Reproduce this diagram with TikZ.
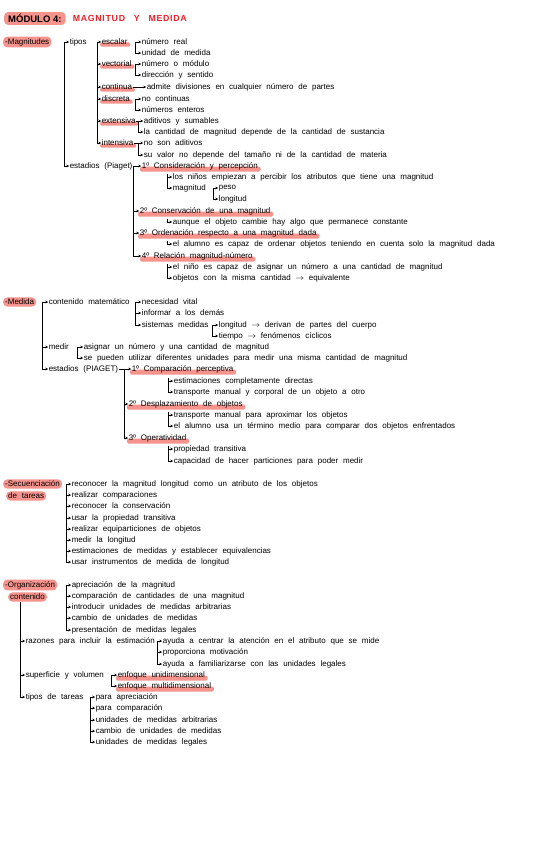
\documentclass[tikz,border=0pt]{standalone}
\usepackage{fontspec}
\setmainfont{Liberation Sans}
\usetikzlibrary{arrows.meta,calc,backgrounds}
\definecolor{hlc}{HTML}{F5938C}
\definecolor{titred}{HTML}{E8232B}
\newcommand{\tx}{\fontsize{8}{9}\selectfont\spaceskip=4.8pt plus 0.5pt}
\begin{document}
\begin{tikzpicture}[x=1pt,y=-1pt,
  t/.style={anchor=west,inner sep=0.6pt,font=\tx},
  pill/.style={anchor=west,inner xsep=2pt,inner ysep=1.6pt,font=\tx,fill=hlc,rounded corners=4pt},
  ln/.style={line width=0.5pt},
  arr/.style={line width=0.5pt,-{Stealth[length=2.6pt,width=2.6pt]}}]
\useasboundingbox (0,0) rectangle (549,848);

% ---------- title
\node[pill,font=\fontsize{9.5}{10}\selectfont\bfseries,inner ysep=2.2pt,inner xsep=4pt] (tit) at (4,18.5) {MÓDULO 4:};
\node[t,font=\fontsize{8.8}{10}\selectfont\bfseries,text=titred] (tit2) at (72,18.5) {M\kern0.7pt A\kern0.7pt G\kern0.7pt N\kern0.7pt I\kern0.7pt T\kern0.7pt U\kern0.7pt D\quad Y\quad M\kern0.7pt E\kern0.7pt D\kern0.7pt I\kern0.7pt D\kern0.7pt A};

% ---------- Magnitudes
\node[pill] (mag) at (3,42) {-Magnitudes};
\node[t] (tipos) at (69,42) {tipos};
\node[t] (estP) at (69,166) {estadios (Piaget)};
\coordinate (xA) at (64,0);

\node[t] (esc) at (101,42) {escalar};
\node[t] (vec) at (101,64) {vectorial};
\node[t] (con) at (101,87) {continua};
\node[t] (dis) at (101,99) {discreta};
\node[t] (ext) at (101,121) {extensiva};
\node[t] (int) at (101,143) {intensiva};
\coordinate (xB) at (97,0);

\node[t] (esc1) at (141,42) {número real};
\node[t] (esc2) at (141,53) {unidad de medida};
\node[t] (vec1) at (141,64) {número o módulo};
\node[t] (vec2) at (141,75) {dirección y sentido};
\node[t] (con1) at (146,87) {admite divisiones en cualquier número de partes};
\node[t] (dis1) at (141,99) {no continuas};
\node[t] (dis2) at (141,110) {números enteros};
\node[t] (ext1) at (143,121) {aditivos y sumables};
\node[t] (ext2) at (143,132) {la cantidad de magnitud depende de la cantidad de sustancia};
\node[t] (int1) at (143,143) {no son aditivos};
\node[t] (int2) at (143,155) {su valor no depende del tamaño ni de la cantidad de materia};
\coordinate (xC) at (135,0);
\coordinate (xC2) at (138,0);

\node[t] (e1) at (141,166) {1º Consideración y percepción};
\node[t] (e1a) at (172,177) {los niños empiezan a percibir los atributos que tiene una magnitud};
\node[t] (e1b) at (172,188) {magnitud};
\node[t] (peso) at (218,188) {peso};
\node[t] (long) at (218,199) {longitud};
\node[t] (e2) at (139,211) {2º Conservación de una magnitud};
\node[t] (e2a) at (172,222) {aunque el objeto cambie hay algo que permanece constante};
\node[t] (e3) at (139,233) {3º Ordenación respecto a una magnitud dada};
\node[t] (e3a) at (172,244) {el alumno es capaz de ordenar objetos teniendo en cuenta solo la magnitud dada};
\node[t] (e4) at (141,256) {4º Relación magnitud-número};
\node[t] (e4a) at (172,267) {el niño es capaz de asignar un número a una cantidad de magnitud};
\node[t] (e4b) at (172,278) {objetos con la misma cantidad $\to$ equivalente};
\coordinate (xD) at (133,0);
\coordinate (xE) at (167,0);
\coordinate (xF) at (213,0);

% connectors Magnitudes
\draw[ln] (tipos.west -| xA) -- (estP.west -| xA);
\foreach \n in {tipos,estP} \draw[arr] (\n.west -| xA) -- (\n.west);
\draw[ln] (esc.west -| xB) -- (int.west -| xB);
\foreach \n in {esc,vec,con,dis,ext,int} \draw[arr] (\n.west -| xB) -- (\n.west);
\draw[ln] (esc1.west -| xC) -- (esc2.west -| xC);
\foreach \n in {esc1,esc2} \draw[arr] (\n.west -| xC) -- (\n.west);
\draw[ln] (vec1.west -| xC) -- (vec2.west -| xC);
\foreach \n in {vec1,vec2} \draw[arr] (\n.west -| xC) -- (\n.west);
\draw[arr] (con.east) -- (con1.west);
\draw[ln] (dis1.west -| xC) -- (dis2.west -| xC);
\foreach \n in {dis1,dis2} \draw[arr] (\n.west -| xC) -- (\n.west);
\draw[arr] (ext.east) -- (ext1.west);
\draw[ln] (ext1.west -| xC2) -- (ext2.west -| xC2);
\draw[arr] (ext2.west -| xC2) -- (ext2.west);
\draw[arr] (int.east) -- (int1.west);
\draw[ln] (int1.west -| xC2) -- (int2.west -| xC2);
\draw[arr] (int2.west -| xC2) -- (int2.west);
\draw[arr] (estP.east) -- (e1.west);
\draw[ln] (e1.west -| xD) -- (e4.west -| xD);
\foreach \n in {e2,e3,e4} \draw[arr] (\n.west -| xD) -- (\n.west);
\draw[ln] ($(e1a.west -| xE)+(0,-3)$) -- (e1b.west -| xE);
\foreach \n in {e1a,e1b} \draw[arr] (\n.west -| xE) -- (\n.west);
\draw[ln] (peso.west -| xF) -- (long.west -| xF);
\foreach \n in {peso,long} \draw[arr] (\n.west -| xF) -- (\n.west);
\draw[ln] ($(e2a.west -| xE)+(0,-3)$) -- (e2a.west -| xE);
\draw[arr] (e2a.west -| xE) -- (e2a.west);
\draw[ln] ($(e3a.west -| xE)+(0,-3)$) -- (e3a.west -| xE);
\draw[arr] (e3a.west -| xE) -- (e3a.west);
\draw[ln] ($(e4a.west -| xE)+(0,-3)$) -- (e4b.west -| xE);
\foreach \n in {e4a,e4b} \draw[arr] (\n.west -| xE) -- (\n.west);

% ---------- Medida
\node[pill] (med) at (3,302) {-Medida};
\coordinate (xG) at (42,0);
\node[t] (cm) at (48,302) {contenido matemático};
\node[t] (medir) at (48,347) {medir};
\node[t] (estM) at (48,369) {estadios (PIAGET)};
\node[t] (cm1) at (141,302) {necesidad vital};
\node[t] (cm2) at (141,313) {informar a los demás};
\node[t] (cm3) at (141,325) {sistemas medidas};
\node[t] (sm1) at (218,325) {longitud $\to$ derivan de partes del cuerpo};
\node[t] (sm2) at (218,336) {tiempo $\to$ fenómenos cíclicos};
\node[t] (md1) at (83,347) {asignar un número y una cantidad de magnitud};
\node[t] (md2) at (83,358) {se pueden utilizar diferentes unidades para medir una misma cantidad de magnitud};
\node[t] (m1) at (131,369) {1º Comparación perceptiva};
\node[t] (m1a) at (173,381) {estimaciones completamente directas};
\node[t] (m1b) at (173,392) {transporte manual y corporal de un objeto a otro};
\node[t] (m2) at (128,404) {2º Desplazamiento de objetos};
\node[t] (m2a) at (173,415) {transporte manual para aproximar los objetos};
\node[t] (m2b) at (173,426) {el alumno usa un término medio para comparar dos objetos enfrentados};
\node[t] (m3) at (128,438) {3º Operatividad};
\node[t] (m3a) at (173,449) {propiedad transitiva};
\node[t] (m3b) at (173,461) {capacidad de hacer particiones para poder medir};
\coordinate (xH) at (135,0);
\coordinate (xI) at (212,0);
\coordinate (xJ) at (77,0);
\coordinate (xK) at (124,0);
\coordinate (xL) at (168,0);

\draw[ln] (cm.west -| xG) -- (estM.west -| xG);
\foreach \n in {cm,medir,estM} \draw[arr] (\n.west -| xG) -- (\n.west);
\draw[ln] (cm1.west -| xH) -- (cm3.west -| xH);
\foreach \n in {cm1,cm2,cm3} \draw[arr] (\n.west -| xH) -- (\n.west);
\draw[ln] (sm1.west -| xI) -- (sm2.west -| xI);
\foreach \n in {sm1,sm2} \draw[arr] (\n.west -| xI) -- (\n.west);
\draw[ln] (md1.west -| xJ) -- (md2.west -| xJ);
\foreach \n in {md1,md2} \draw[arr] (\n.west -| xJ) -- (\n.west);
\draw[arr] (estM.east) -- (m1.west);
\draw[ln] (m1.west -| xK) -- (m3.west -| xK);
\foreach \n in {m2,m3} \draw[arr] (\n.west -| xK) -- (\n.west);
\draw[ln] ($(m1a.west -| xL)+(0,-3)$) -- (m1b.west -| xL);
\foreach \n in {m1a,m1b} \draw[arr] (\n.west -| xL) -- (\n.west);
\draw[ln] ($(m2a.west -| xL)+(0,-3)$) -- (m2b.west -| xL);
\foreach \n in {m2a,m2b} \draw[arr] (\n.west -| xL) -- (\n.west);
\draw[ln] ($(m3a.west -| xL)+(0,-3)$) -- (m3b.west -| xL);
\foreach \n in {m3a,m3b} \draw[arr] (\n.west -| xL) -- (\n.west);

% ---------- Secuenciación
\node[pill] (sec) at (3,484) {-Secuenciación};
\node[pill] (sec2) at (6,496) {de tareas};
\coordinate (xM) at (66,0);
\node[t] (s1) at (71,484) {reconocer la magnitud longitud como un atributo de los objetos};
\node[t] (s2) at (71,495) {realizar comparaciones};
\node[t] (s3) at (71,506) {reconocer la conservación};
\node[t] (s4) at (71,518) {usar la propiedad transitiva};
\node[t] (s5) at (71,529) {realizar equiparticiones de objetos};
\node[t] (s6) at (71,540) {medir la longitud};
\node[t] (s7) at (71,551) {estimaciones de medidas y establecer equivalencias};
\node[t] (s8) at (71,562) {usar instrumentos de medida de longitud};
\draw[ln] (s1.west -| xM) -- (s8.west -| xM);
\foreach \n in {s1,s2,s3,s4,s5,s6,s7,s8} \draw[arr] (\n.west -| xM) -- (\n.west);

% ---------- Organización
\node[pill] (org) at (3,585) {-Organización};
\node[pill] (org2) at (8,597) {contenido};
\node[t] (o1) at (71,585) {apreciación de la magnitud};
\node[t] (o2) at (71,596) {comparación de cantidades de una magnitud};
\node[t] (o3) at (71,607) {introducir unidades de medidas arbitrarias};
\node[t] (o4) at (71,618) {cambio de unidades de medidas};
\node[t] (o5) at (71,630) {presentación de medidas legales};
\draw[ln] (o1.west -| xM) -- (o5.west -| xM);
\foreach \n in {o1,o2,o3,o4,o5} \draw[arr] (\n.west -| xM) -- (\n.west);

\coordinate (xN) at (20,0);
\node[t] (raz) at (25,641) {razones para incluir la estimación};
\node[t] (sup) at (25,675) {superficie y volumen};
\node[t] (tt) at (25,697) {tipos de tareas};
\draw[ln] (org2.south -| xN) -- (tt.west -| xN);
\foreach \n in {raz,sup,tt} \draw[arr] (\n.west -| xN) -- (\n.west);

\node[t] (r1) at (162,641) {ayuda a centrar la atención en el atributo que se mide};
\node[t] (r2) at (162,652) {proporciona motivación};
\node[t] (r3) at (162,664) {ayuda a familiarizarse con las unidades legales};
\coordinate (xO) at (157,0);
\draw[ln] (r1.west -| xO) -- (r3.west -| xO);
\foreach \n in {r1,r2,r3} \draw[arr] (\n.west -| xO) -- (\n.west);

\node[t] (v1) at (117,675) {enfoque unidimensional};
\node[t] (v2) at (117,686) {enfoque multidimensional};
\coordinate (xP) at (111,0);
\draw[ln] (v1.west -| xP) -- (v2.west -| xP);
\foreach \n in {v1,v2} \draw[arr] (\n.west -| xP) -- (\n.west);

\node[t] (k1) at (95,697) {para apreciación};
\node[t] (k2) at (95,708) {para comparación};
\node[t] (k3) at (95,720) {unidades de medidas arbitrarias};
\node[t] (k4) at (95,731) {cambio de unidades de medidas};
\node[t] (k5) at (95,742) {unidades de medidas legales};
\coordinate (xQ) at (90,0);
\draw[ln] (k1.west -| xQ) -- (k5.west -| xQ);
\foreach \n in {k1,k2,k3,k4,k5} \draw[arr] (\n.west -| xQ) -- (\n.west);

% ---------- background and highlights
\begin{scope}[on background layer]
\fill[white] (0,0) rectangle (549,848);
\foreach \n in {esc,vec,con,dis,ext,int,e1,e2,e3,e4,m1,m2,m3,v1,v2}
  \fill[hlc,rounded corners=1.5pt] ($(\n.south west)+(-1,1)$) rectangle ($(\n.east)+(2,0.5)$);
\end{scope}
\end{tikzpicture}
\end{document}
